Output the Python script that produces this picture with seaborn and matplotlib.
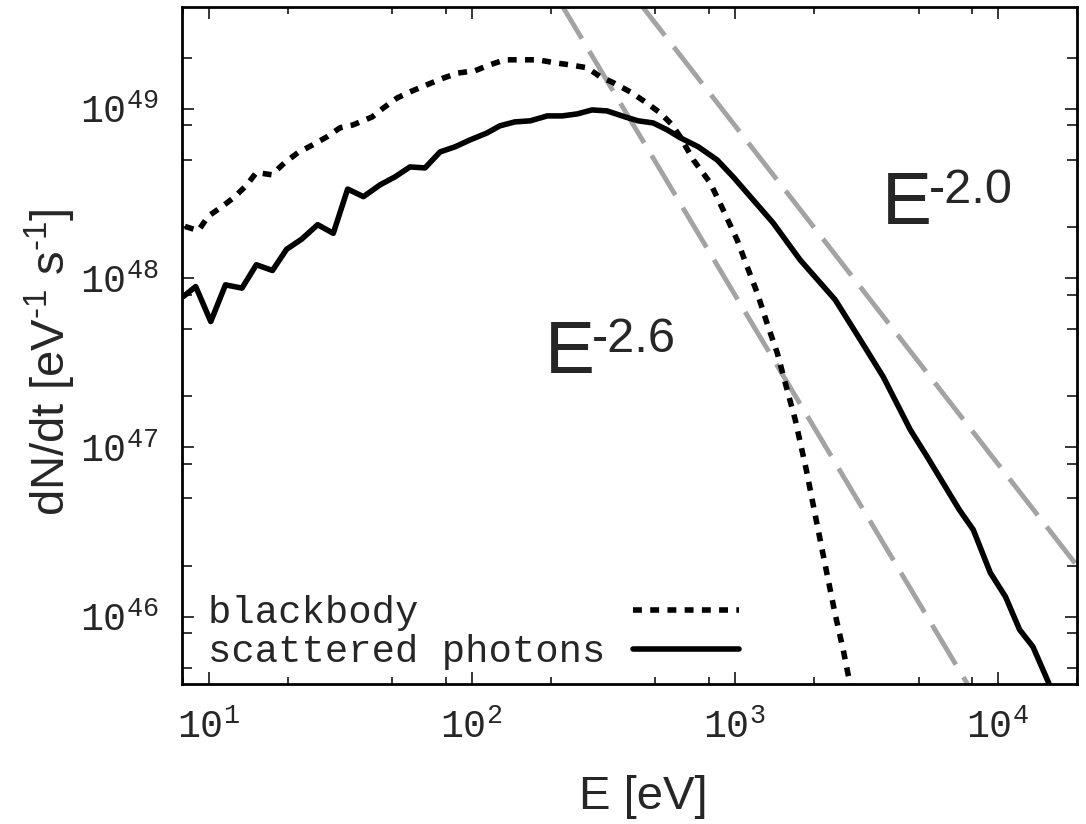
import math
import matplotlib
matplotlib.use("Agg")
import matplotlib.pyplot as plt
import matplotlib.ticker as mticker
import pandas as pd
import seaborn as sns

# ---- data ----
bb_E = [8.14, 9.15, 10.0, 11.2, 12.6, 14.0, 15.2, 17.4, 19.5, 21.9,
        24.9, 28.2, 31.6, 35.4, 41.9, 46.1, 52.1, 58.3, 67.8, 78.0,
        88.9, 103, 117, 134, 157, 179, 208, 237, 275, 308,
        345, 401, 457, 521, 579, 621, 696, 807, 904, 1022,
        1115, 1218, 1341, 1451, 1556, 1698, 1871, 2040, 2227, 2410,
        2585, 2771]
bb_N = [2.02e48, 1.91e48, 2.33e48, 2.63e48, 3.03e48, 3.56e48, 4.21e48, 4.08e48, 4.82e48, 5.52e48,
        6.13e48, 6.84e48, 7.73e48, 8.04e48, 8.97e48, 1.01e49, 1.16e49, 1.26e49, 1.39e49, 1.52e49,
        1.63e49, 1.68e49, 1.82e49, 1.95e49, 1.95e49, 1.95e49, 1.87e49, 1.82e49, 1.75e49, 1.55e49,
        1.43e49, 1.26e49, 1.10e49, 9.47e48, 8.04e48, 6.84e48, 5.00e48, 3.66e48, 2.53e48, 1.68e48,
        1.17e48, 8.18e47, 5.15e47, 3.62e47, 2.41e47, 1.46e47, 7.38e46, 3.73e46, 1.89e46, 1.03e46,
        6.37e45, 3.70e45]

sc_E = [8.02, 8.94, 10.2, 11.6, 13.4, 15.2, 17.5, 19.8, 22.6, 26.0,
        29.8, 33.8, 38.8, 44.9, 51.2, 58.3, 66.5, 75.9, 86.5, 98.7,
        114.5, 128, 146, 167, 194, 221, 252, 287, 327, 383,
        430, 490, 554, 621, 727, 857, 986, 1175, 1400, 1774,
        2410, 3000, 3670, 4650, 5390, 7140, 8070, 9360, 10700, 12100,
        13600, 15600, 16600]
sc_N = [7.78e47, 8.92e47, 5.54e47, 9.13e47, 8.73e47, 1.20e48, 1.11e48, 1.48e48, 1.70e48, 2.07e48,
        1.84e48, 3.36e48, 3.03e48, 3.56e48, 3.97e48, 4.54e48, 4.48e48, 5.57e48, 5.97e48, 6.56e48,
        7.21e48, 7.94e48, 8.38e48, 8.50e48, 9.09e48, 9.09e48, 9.34e48, 9.86e48, 9.73e48, 8.97e48,
        8.50e48, 8.26e48, 7.52e48, 6.75e48, 5.97e48, 5.00e48, 3.97e48, 2.90e48, 2.12e48, 1.28e48,
        7.45e47, 4.33e47, 2.61e47, 1.27e47, 8.80e46, 4.28e46, 3.26e46, 1.82e46, 1.31e46, 8.38e45,
        6.64e45, 4.07e45, 2.82e45]

# reference power laws (end points)
ref_E = [100, 20000]
ref26_N = [3.2e50, 3.3e44]   # E^-2.6
ref20_N = [8.0e50, 2.0e46]   # E^-2.0

labels = ["blackbody", "scattered photons"]
ann_text = ["-2.6", "-2.0"]
ann_E = [190, 3640]
ann_N = [2.76e47, 2.09e48]
xlim = (7.93, 2.0e4)
ylim = (4.0e45, 4.0e49)

# ---- style ----
sns.set_theme(style="ticks")
plt.rcParams["font.family"] = ["Liberation Mono", "DejaVu Sans"]
plt.rcParams["mathtext.fontset"] = "custom"
plt.rcParams["mathtext.rm"] = "Liberation Sans"
plt.rcParams["mathtext.it"] = "Liberation Sans:italic"
plt.rcParams["mathtext.bf"] = "Liberation Sans:bold"

W, H = 1086, 824
fig = plt.figure(figsize=(W / 100, H / 100), dpi=100)
ax = fig.add_axes([182 / W, (H - 684) / H, (1077 - 182) / W, (684 - 7) / H])

df_bb = pd.DataFrame({"E": bb_E, "N": bb_N})
df_sc = pd.DataFrame({"E": sc_E, "N": sc_N})
df_r26 = pd.DataFrame({"E": ref_E, "N": ref26_N})
df_r20 = pd.DataFrame({"E": ref_E, "N": ref20_N})

gray = "#a3a3a3"
for df_r in (df_r26, df_r20):
    sns.lineplot(data=df_r, x="E", y="N", ax=ax, color=gray, lw=3.5,
                 linestyle=(0, (9.5, 3.0)), dash_capstyle="butt", sort=False, estimator=None)
sns.lineplot(data=df_bb, x="E", y="N", ax=ax, color="black", lw=4.0,
             linestyle=(0, (1.6, 1.5)), dash_capstyle="butt", sort=False,
             estimator=None, label=labels[0])
sns.lineplot(data=df_sc, x="E", y="N", ax=ax, color="black", lw=4.0,
             sort=False, estimator=None, label=labels[1])

ax.set_xscale("log")
ax.set_yscale("log")
ax.set_xlim(*xlim)
ax.set_ylim(*ylim)

ax.xaxis.set_major_locator(mticker.LogLocator(base=10, numticks=20))
ax.yaxis.set_major_locator(mticker.LogLocator(base=10, numticks=20))
ax.xaxis.set_minor_locator(mticker.LogLocator(base=10, subs=(2, 5, 8), numticks=20))
ax.yaxis.set_minor_locator(mticker.LogLocator(base=10, subs=(2, 5, 8), numticks=20))
fmt = mticker.FuncFormatter(lambda v, p: r"$\mathregular{10^{%d}}$" % round(math.log10(v)))
ax.xaxis.set_major_formatter(fmt)
ax.yaxis.set_major_formatter(fmt)
ax.xaxis.set_minor_formatter(mticker.NullFormatter())
ax.yaxis.set_minor_formatter(mticker.NullFormatter())

for s in ax.spines.values():
    s.set_linewidth(2.0)
    s.set_color("black")
ax.tick_params(which="both", direction="in", top=True, right=True, color="black", width=1.1)
ax.tick_params(which="major", length=8.6, labelsize=27.5, pad=17)
ax.tick_params(axis="x", which="major", pad=18)
ax.tick_params(axis="x", which="minor", length=5.0)
ax.tick_params(axis="y", which="minor", length=7.0)

ax.set_xlabel("E [eV]", fontsize=34, family="Liberation Sans", va="center")
ax.set_ylabel(r"dN/dt [eV$^{\text{-1}}$ s$^{\text{-1}}$]", fontsize=34,
              family="Liberation Sans", va="center")
ax.xaxis.set_label_coords(0.515, -0.167)
ax.yaxis.set_label_coords(-0.1475, 0.476)

for e, n, t in zip(ann_E, ann_N, ann_text):
    ax.text(e, n, "E", fontsize=54, family="Liberation Sans", ha="left", va="baseline")
    ax.annotate(t, xy=(e, n), xytext=(33.5, 15), textcoords="offset points",
                fontsize=35, family="Liberation Sans", ha="left", va="baseline")

handles, _ = ax.get_legend_handles_labels()
w = max(len(l) for l in labels)
ax.legend(handles, [l.ljust(w) for l in labels], loc="lower left",
          bbox_to_anchor=(0.029, 0.02), frameon=False, markerfirst=False,
          prop={"family": "Liberation Mono", "size": 28}, handlelength=2.75,
          handletextpad=0.7, labelspacing=0.08, borderpad=0, borderaxespad=0)

fig.savefig("out.png", dpi=100)
